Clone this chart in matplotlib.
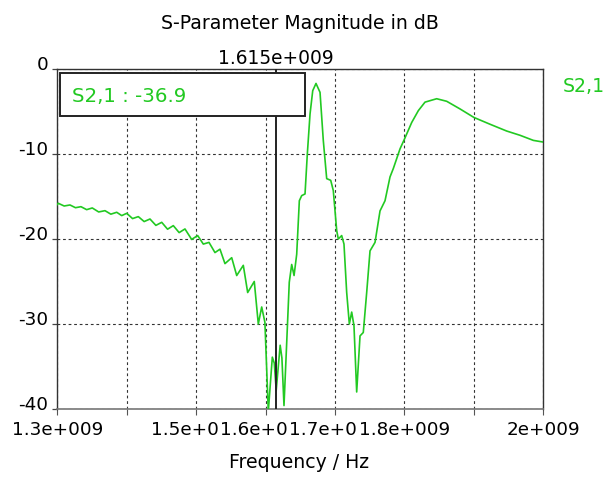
import numpy as np
import matplotlib
matplotlib.use("Agg")
import matplotlib.pyplot as plt
from matplotlib.patches import Rectangle

# Данные S2,1 (ГГц, дБ)
freq_ghz = [
    1.3000, 1.3014, 1.3099, 1.3183, 1.3262, 1.3341, 1.3423, 1.3504, 1.3596, 1.3687,
    1.3771, 1.3856, 1.3928, 1.4000, 1.4084, 1.4167, 1.4251, 1.4335, 1.4420, 1.4504,
    1.4588, 1.4671, 1.4755, 1.4839, 1.4935, 1.5022, 1.5103, 1.5185, 1.5271, 1.5343,
    1.5415, 1.5512, 1.5584, 1.5679, 1.5742, 1.5837, 1.5895, 1.5944, 1.5990, 1.6039,
    1.6097, 1.6125, 1.6153, 1.6210, 1.6235, 1.6265, 1.6304, 1.6341, 1.6376, 1.6410,
    1.6448, 1.6486, 1.6520, 1.6568, 1.6601, 1.6640, 1.6679, 1.6726, 1.6784, 1.6831,
    1.6880, 1.6938, 1.6975, 1.7024, 1.7047, 1.7096, 1.7129, 1.7168, 1.7206, 1.7240,
    1.7273, 1.7312, 1.7360, 1.7407, 1.7456, 1.7504, 1.7576, 1.7648, 1.7720, 1.7792,
    1.7840, 1.7936, 1.8008, 1.8104, 1.8200, 1.8296, 1.8464, 1.8608, 1.8800, 1.9000,
    1.9232, 1.9472, 1.9664, 1.9856, 2.0000,
]
s21_db = [
    -15.95, -15.80, -16.12, -16.00, -16.32, -16.20, -16.55, -16.35, -16.82, -16.67,
    -17.08, -16.86, -17.25, -16.98, -17.60, -17.37, -17.95, -17.65, -18.40, -18.04,
    -18.85, -18.43, -19.25, -18.82, -20.05, -19.60, -20.60, -20.40, -21.60, -21.20,
    -22.90, -22.20, -24.30, -23.10, -26.30, -25.00, -30.00, -28.00, -29.80, -40.30,
    -33.90, -34.60, -37.80, -32.50, -34.00, -39.60, -32.20, -25.10, -23.00, -24.30,
    -21.80, -15.50, -14.90, -14.70, -10.00, -5.30, -2.55, -1.70, -2.75, -8.40,
    -12.90, -13.10, -14.30, -19.00, -20.00, -19.60, -20.60, -26.30, -30.00, -28.60,
    -30.20, -38.00, -31.40, -31.00, -26.30, -21.40, -20.40, -16.70, -15.50, -12.70,
    -11.70, -9.40, -8.10, -6.30, -4.90, -3.90, -3.50, -3.80, -4.70, -5.70,
    -6.50, -7.30, -7.80, -8.40, -8.60,
]

x_ticks_hz = [1.3e9, 1.4e9, 1.5e9, 1.6e9, 1.7e9, 1.8e9, 1.9e9, 2.0e9]
x_tick_labels = ["1.3e+009", "", "1.5e+009", "1.6e+009", "1.7e+009", "1.8e+009", "", "2e+009"]
y_ticks = [0, -10, -20, -30, -40]
y_tick_labels = ["0", "-10", "-20", "-30", "-40"]

marker_hz = 1.615e9
marker_text = "1.615e+009"
readout_text = "S2,1 : -36.9"
trace_name = "S2,1"

GREEN = "#22c922"

plt.rcParams["font.family"] = ["DejaVu Sans"]

fig = plt.figure(figsize=(6.14, 5.02), dpi=100)
ax = fig.add_axes([0.0933, 0.1833, 0.7916, 0.6773])

freq_hz = np.array(freq_ghz) * 1e9
ax.plot(freq_hz, s21_db, color=GREEN, lw=1.2, zorder=3)

ax.set_xlim(1.3e9, 2.0e9)
ax.set_ylim(-40, 0)

# сетка пунктиром
ax.set_xticks(x_ticks_hz, x_tick_labels)
ax.set_yticks(y_ticks, y_tick_labels)
ax.grid(True, color="#333333", lw=0.8, linestyle=(0, (2.5, 2.5)), zorder=1)
ax.set_axisbelow(True)

ax.tick_params(axis="x", length=4.5, width=0.8, color="#555555", pad=3.2,
               labelsize=13.2, labelcolor="black")
ax.tick_params(axis="y", length=3.6, width=0.9, color="#444444", pad=2.9,
               labelsize=13.2, labelcolor="black")
# подписи накладываются друг на друга, как в оригинале
plt.setp(ax.get_xticklabels(), bbox=dict(facecolor="white", edgecolor="none", pad=1.5))
plt.setp(ax.get_yticklabels(), va="baseline")

for side in ["left", "top", "right"]:
    ax.spines[side].set_color("#333333")
    ax.spines[side].set_linewidth(1.0)
ax.spines["bottom"].set_color("#777777")
ax.spines["bottom"].set_linewidth(1.2)

# маркер
ax.axvline(marker_hz, color="#222222", lw=1.4, zorder=4)
ax.text(marker_hz, 1.0, marker_text, transform=ax.get_xaxis_transform(),
        ha="center", va="baseline", fontsize=13.4,
        # чуть выше верхней рамки
        )
ax.texts[-1].set_y(1.018)

# окно со значением
box = Rectangle((0.0056, 0.862), 0.5041, 0.126, transform=ax.transAxes,
                facecolor="white", edgecolor="#222222", lw=1.4, zorder=5)
ax.add_patch(box)
ax.text(0.0296, 0.907, readout_text, transform=ax.transAxes, color=GREEN,
        fontsize=14.2, va="baseline", ha="left", zorder=6)

fig.text(563 / 614, 1 - 92 / 502, trace_name, color=GREEN, fontsize=13.6,
         ha="left", va="baseline")

fig.text(299.5 / 614, 1 - 29 / 502, "S-Parameter Magnitude in dB",
         fontsize=13.6, ha="center", va="baseline")
fig.text(299.5 / 614, 1 - 468 / 502, "Frequency / Hz",
         fontsize=13.6, ha="center", va="baseline")

fig.savefig("out.png", dpi=100, facecolor="white")
